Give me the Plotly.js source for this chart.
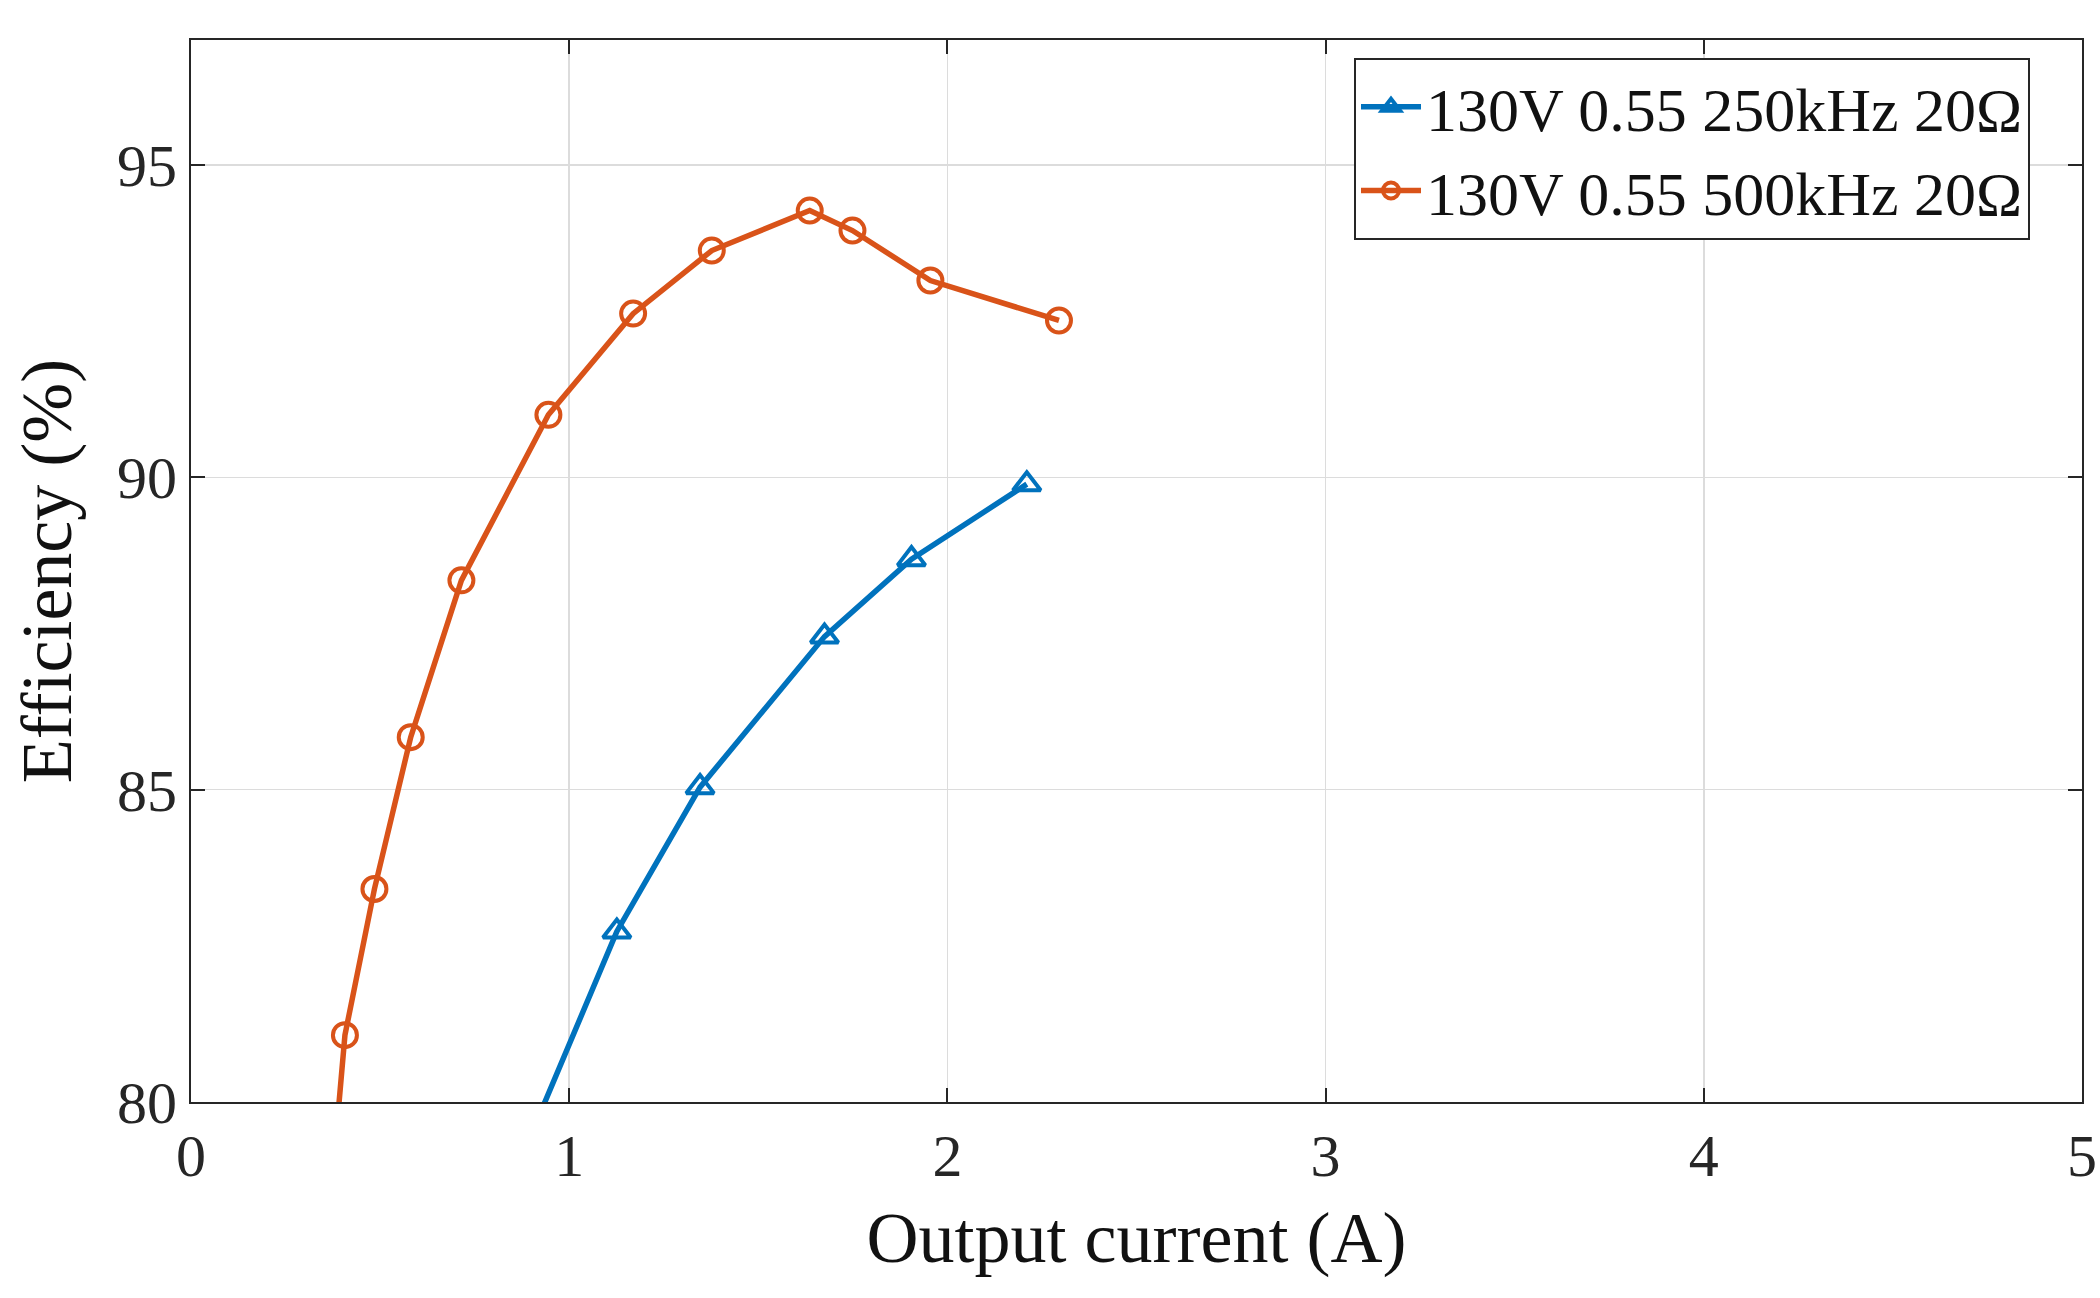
<!DOCTYPE html>
<html>
<head>
<meta charset="utf-8">
<script src="https://cdn.plot.ly/plotly-3.0.1.min.js"></script>
<style>body{margin:0;background:#fff}</style>
</head>
<body>
<div id="chart" style="width:2100px;height:1298px"></div>
<script>
// values
var cur250 = [0.88, 1.126, 1.346, 1.675, 1.905, 2.21];
var eff250 = [79.2, 82.73, 85.04, 87.45, 88.69, 89.89];
var cur500 = [0.37, 0.407, 0.485, 0.581, 0.715, 0.945, 1.169, 1.377, 1.636, 1.749, 1.955, 2.295];
var eff500 = [78.5, 81.07, 83.41, 85.84, 88.35, 91.0, 92.62, 93.63, 94.27, 93.95, 93.15, 92.51];
var names = ['130V 0.55 250kHz 20\u03A9', '130V 0.55 500kHz 20\u03A9'];

var font = 'Liberation Serif, DejaVu Serif, serif';

function series(x, y, name, color, symbol) {
    return {
        x: x, y: y, name: name, type: 'scatter', mode: 'lines+markers',
        line: { color: color, width: 5.5 },
        marker: { symbol: symbol, size: 24, color: color, line: { color: color, width: 4 } },
        cliponaxis: true
    };
}

var axis = {
    showline: true, mirror: 'ticks', linecolor: '#262626', linewidth: 2,
    ticks: 'inside', ticklen: 14, tickwidth: 2, tickcolor: '#262626',
    showgrid: true, gridcolor: '#dcdcdc', gridwidth: 1.5, zeroline: false,
    tickfont: { family: font, size: 60, color: '#262626' }
};

var layout = {
    width: 2100, height: 1298,
    margin: { l: 191, r: 18, t: 40, b: 196 },
    paper_bgcolor: '#fff', plot_bgcolor: '#fff',
    showlegend: true,
    legend: {
        x: 0.9725, y: 0.983, xanchor: 'right', yanchor: 'top',
        bordercolor: '#262626', borderwidth: 2, bgcolor: '#fff',
        itemwidth: 60,
        font: { family: font, size: 62, color: '#111' }
    },
    xaxis: Object.assign({}, axis, {
        range: [0, 5], dtick: 1,
        title: { text: 'Output current (A)', font: { family: font, size: 72, color: '#111' }, standoff: 24 }
    }),
    yaxis: Object.assign({}, axis, {
        range: [80, 97], tickvals: [80, 85, 90, 95],
        title: { text: 'Efficiency (%)', font: { family: font, size: 72, color: '#111' }, standoff: 22 }
    })
};

Plotly.newPlot('chart', [
    series(cur250, eff250, names[0], '#0072BD', 'triangle-up-open'),
    series(cur500, eff500, names[1], '#D95319', 'circle-open')
], layout, { staticPlot: true });
</script>
</body>
</html>
